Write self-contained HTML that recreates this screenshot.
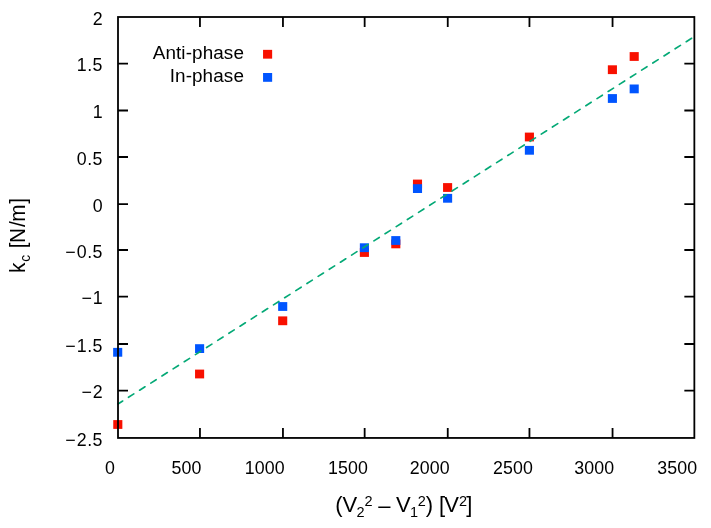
<!DOCTYPE html>
<html><head><meta charset="utf-8"><title>plot</title>
<style>
html,body{margin:0;padding:0;background:#fff;}
svg{display:block;will-change:transform}
text{font-family:"Liberation Sans",sans-serif;fill:#000}
.t{font-size:17.8px;letter-spacing:0.1px}
.k{font-size:18.9px;letter-spacing:0.1px}
.a{font-size:22px}
.s{font-size:14.5px}
.ya{font-size:21.7px}
.ys{font-size:14.4px}
</style></head><body>
<svg width="711" height="528" viewBox="0 0 711 528">
<rect width="711" height="528" fill="#fff"/>
<rect x="113.25" y="420.10" width="9.1" height="8.8" fill="#f81000"/>
<rect x="195.05" y="369.60" width="9.1" height="8.8" fill="#f81000"/>
<rect x="278.15" y="316.40" width="9.1" height="8.8" fill="#f81000"/>
<rect x="359.85" y="248.10" width="9.1" height="8.8" fill="#f81000"/>
<rect x="391.25" y="239.50" width="9.1" height="8.8" fill="#f81000"/>
<rect x="412.95" y="179.60" width="9.1" height="8.8" fill="#f81000"/>
<rect x="443.05" y="183.10" width="9.1" height="8.8" fill="#f81000"/>
<rect x="524.85" y="132.60" width="9.1" height="8.8" fill="#f81000"/>
<rect x="607.85" y="65.30" width="9.1" height="8.8" fill="#f81000"/>
<rect x="629.65" y="52.10" width="9.1" height="8.8" fill="#f81000"/>
<rect x="113.15" y="347.90" width="9.1" height="8.8" fill="#0055ff"/>
<rect x="195.05" y="344.20" width="9.1" height="8.8" fill="#0055ff"/>
<rect x="278.15" y="302.10" width="9.1" height="8.8" fill="#0055ff"/>
<rect x="359.85" y="243.30" width="9.1" height="8.8" fill="#0055ff"/>
<rect x="391.25" y="236.10" width="9.1" height="8.8" fill="#0055ff"/>
<rect x="412.95" y="184.20" width="9.1" height="8.8" fill="#0055ff"/>
<rect x="443.05" y="193.90" width="9.1" height="8.8" fill="#0055ff"/>
<rect x="524.85" y="145.90" width="9.1" height="8.8" fill="#0055ff"/>
<rect x="607.85" y="94.10" width="9.1" height="8.8" fill="#0055ff"/>
<rect x="629.65" y="84.50" width="9.1" height="8.8" fill="#0055ff"/>
<path d="M118.0 404.0L694.35 36.55" stroke="#04a976" stroke-width="1.65" stroke-linecap="round" stroke-dasharray="6.35 6.88" stroke-dashoffset="0.8" fill="none"/>
<text x="104.90" y="473.8" class="t">0</text>
<path d="M199.95 437.95v-10.0M199.95 17.0v10.0" stroke="#000" stroke-width="1.8" fill="none"/>
<text x="171.50" y="473.8" class="t">500</text>
<path d="M282.95 437.95v-10.0M282.95 17.0v10.0" stroke="#000" stroke-width="1.8" fill="none"/>
<text x="244.80" y="473.8" class="t">1000</text>
<path d="M364.65 437.95v-10.0M364.65 17.0v10.0" stroke="#000" stroke-width="1.8" fill="none"/>
<text x="328.00" y="473.8" class="t">1500</text>
<path d="M447.75 437.95v-10.0M447.75 17.0v10.0" stroke="#000" stroke-width="1.8" fill="none"/>
<text x="409.70" y="473.8" class="t">2000</text>
<path d="M529.45 437.95v-10.0M529.45 17.0v10.0" stroke="#000" stroke-width="1.8" fill="none"/>
<text x="493.00" y="473.8" class="t">2500</text>
<path d="M612.55 437.95v-10.0M612.55 17.0v10.0" stroke="#000" stroke-width="1.8" fill="none"/>
<text x="574.20" y="473.8" class="t">3000</text>
<text x="657.30" y="473.8" class="t">3500</text>
<text x="92.7" y="24.80" class="t">2</text>
<path d="M118.0 63.60h10.0M694.35 63.60h-10.0" stroke="#000" stroke-width="1.8" fill="none"/>
<text x="92.55" y="71.40" class="t">5</text>
<text x="87.3" y="71.40" class="t">.</text>
<text x="76.65" y="71.40" class="t">1</text>
<path d="M118.0 110.50h10.0M694.35 110.50h-10.0" stroke="#000" stroke-width="1.8" fill="none"/>
<text x="92.7" y="118.30" class="t">1</text>
<path d="M118.0 157.00h10.0M694.35 157.00h-10.0" stroke="#000" stroke-width="1.8" fill="none"/>
<text x="92.55" y="164.80" class="t">5</text>
<text x="87.3" y="164.80" class="t">.</text>
<text x="76.65" y="164.80" class="t">0</text>
<path d="M118.0 204.10h10.0M694.35 204.10h-10.0" stroke="#000" stroke-width="1.8" fill="none"/>
<text x="92.7" y="211.90" class="t">0</text>
<path d="M118.0 250.00h10.0M694.35 250.00h-10.0" stroke="#000" stroke-width="1.8" fill="none"/>
<text x="92.55" y="257.80" class="t">5</text>
<text x="87.3" y="257.80" class="t">.</text>
<text x="76.65" y="257.80" class="t">0</text>
<text x="65.15" y="257.80" class="t">−</text>
<path d="M118.0 296.60h10.0M694.35 296.60h-10.0" stroke="#000" stroke-width="1.8" fill="none"/>
<text x="92.7" y="304.40" class="t">1</text>
<text x="81.55" y="304.40" class="t">−</text>
<path d="M118.0 344.00h10.0M694.35 344.00h-10.0" stroke="#000" stroke-width="1.8" fill="none"/>
<text x="92.55" y="351.80" class="t">5</text>
<text x="87.3" y="351.80" class="t">.</text>
<text x="76.65" y="351.80" class="t">1</text>
<text x="65.15" y="351.80" class="t">−</text>
<path d="M118.0 390.60h10.0M694.35 390.60h-10.0" stroke="#000" stroke-width="1.8" fill="none"/>
<text x="92.7" y="398.40" class="t">2</text>
<text x="81.55" y="398.40" class="t">−</text>
<text x="92.55" y="445.75" class="t">5</text>
<text x="87.3" y="445.75" class="t">.</text>
<text x="76.65" y="445.75" class="t">2</text>
<text x="65.15" y="445.75" class="t">−</text>
<rect x="118.0" y="17.0" width="576.35" height="420.95" fill="none" stroke="#000" stroke-width="1.8"/>
<text x="244.0" y="59.1" text-anchor="end" class="k">Anti-phase</text>
<text x="244.0" y="81.9" text-anchor="end" class="k">In-phase</text>
<rect x="263.05" y="49.85" width="9.1" height="8.8" fill="#f81000"/>
<rect x="263.05" y="73.00" width="9.1" height="8.8" fill="#0055ff"/>
<text x="335.26" y="512.2" class="a">(</text>
<text x="342.54" y="512.2" class="a">V</text>
<text x="356.6" y="516.9000000000001" class="s">2</text>
<text x="364.56" y="505.90000000000003" class="s">2</text>
<text x="378.3" y="512.9000000000001" class="a">–</text>
<text x="396.0" y="512.2" class="a">V</text>
<text x="410.0" y="516.9000000000001" class="s">1</text>
<text x="417.7" y="505.90000000000003" class="s">2</text>
<text x="425.7" y="512.2" class="a">)</text>
<text x="439.0" y="512.2" class="a">[</text>
<text x="444.3" y="512.2" class="a">V</text>
<text x="458.9" y="505.90000000000003" class="s">2</text>
<text x="466.2" y="512.2" class="a">]</text>
<g transform="translate(25.1,273.0) rotate(-90) scale(0.955,1)"><text x="0.00" y="0" class="ya">k</text><text x="11.78" y="4.7" class="ys">c</text><text x="26.00" y="0" class="ya">[</text><text x="31.52" y="0" class="ya">N</text><text x="48.22" y="0" class="ya">/</text><text x="53.66" y="0" class="ya">m</text><text x="72.62" y="0" class="ya">]</text></g>
</svg>
</body></html>
